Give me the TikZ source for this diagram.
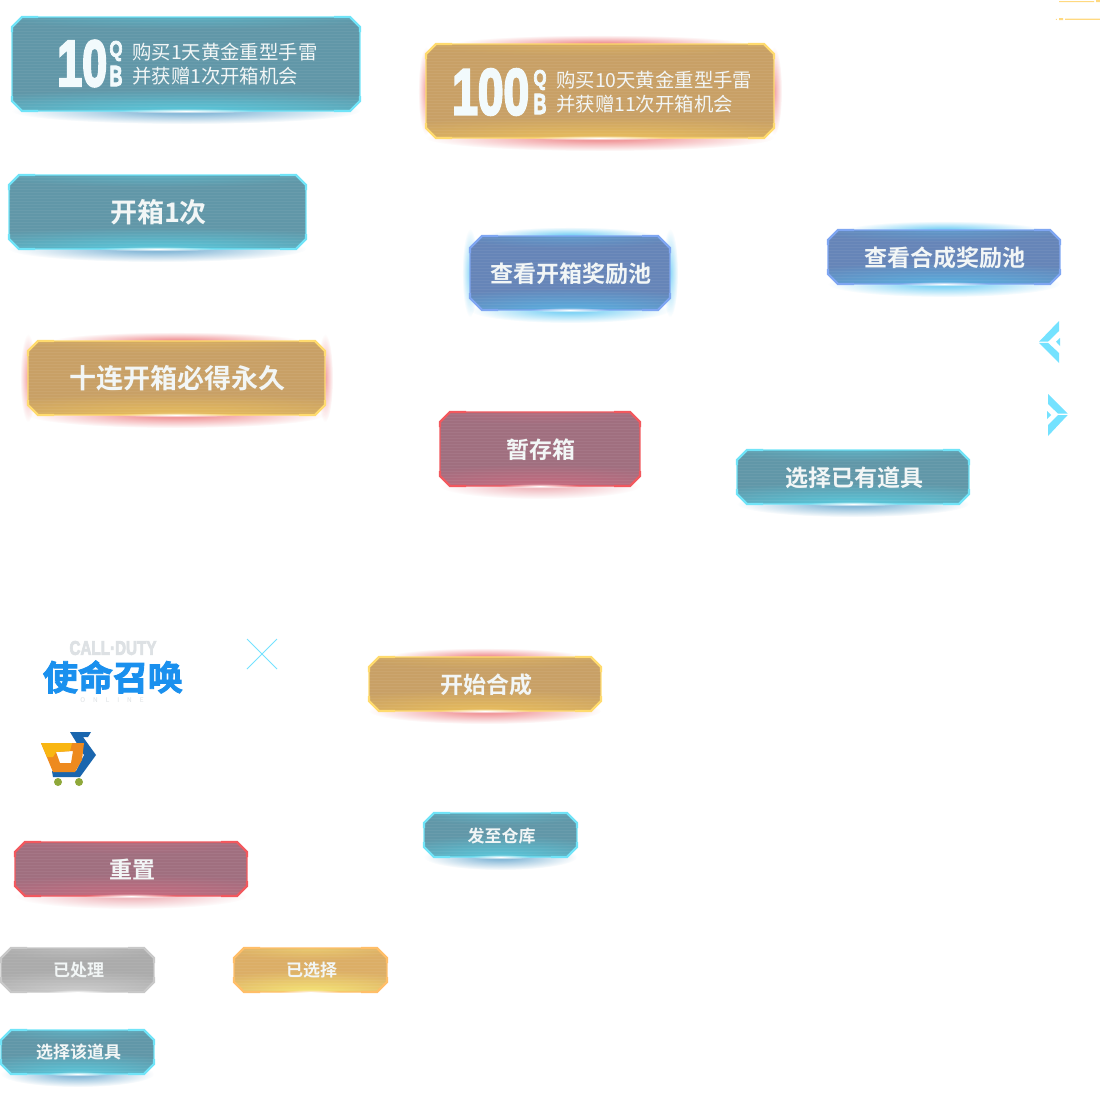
\documentclass[tikz,border=0pt]{standalone}
\usepackage{fontspec}
\usepackage{graphicx}
\usetikzlibrary{fadings}
\setmainfont{Noto Sans CJK SC}[BoldFont={Noto Sans CJK SC Bold}]
\newfontfamily\digitfont{Liberation Sans Bold}[FakeBold=4]
\newfontfamily\codfont{Noto Sans CJK SC Bold}[FakeBold=2.5]
\tikzfading[name=softglow, inner color=transparent!0, outer color=transparent!100]
\definecolor{tealfill}{HTML}{6197A8}\definecolor{tealedge}{HTML}{70E4F8}\definecolor{tealhi}{HTML}{58D2E6}\definecolor{tealshadow}{HTML}{3A8CC0}
\definecolor{goldfill}{HTML}{C8A066}\definecolor{goldedge}{HTML}{FFDB6E}\definecolor{goldhi}{HTML}{EFC35A}\definecolor{redglow}{HTML}{E8555A}
\definecolor{bluefill}{HTML}{6685B8}\definecolor{blueedge}{HTML}{7FA6F2}\definecolor{bluehi}{HTML}{58B8E8}\definecolor{cyanglow}{HTML}{30B8F0}
\definecolor{rosefill}{HTML}{A06F7F}\definecolor{roseedge}{HTML}{F2585E}\definecolor{rosehi}{HTML}{D06A80}\definecolor{roseglow}{HTML}{E89098}
\definecolor{greyfill}{HTML}{ABABAB}\definecolor{greyedge}{HTML}{C8C8C8}\definecolor{greyhi}{HTML}{D4D4D4}
\definecolor{yelfill}{HTML}{DCAE66}\definecolor{yeledge}{HTML}{FFBE68}\definecolor{yelhi}{HTML}{FBEF78}
\definecolor{labeltext}{HTML}{F2F6F6}\definecolor{bigdigit}{HTML}{F2FAFC}\definecolor{arrowcyan}{HTML}{74E2FF}\definecolor{linegold}{HTML}{FFD980}
\definecolor{codblue}{HTML}{1A90EE}\definecolor{codgrey}{HTML}{DDE1E4}
\definecolor{cartblue}{HTML}{1A66AE}\definecolor{cartorange}{HTML}{EE8A1E}\definecolor{cartyellow}{HTML}{F9B612}\definecolor{cartwheel}{HTML}{8FA83A}
\tikzset{
  btnlabel/.style={text=labeltext,inner sep=0pt,font=\bfseries},
  plainlabel/.style={text=labeltext,inner sep=0pt,anchor=west,font=\fontsize{19.4}{20}\selectfont},
  digitlabel/.style={inner sep=0pt,text=bigdigit},
  arrowpart/.style={fill=arrowcyan,draw=none},
}
% theme: fill, edge, inner highlight, glow below, glow above, glow sides, strength above
\newcommand\themeset[7]{\def\bfil{#1}\def\bedg{#2}\def\bhi{#3}\def\gbot{#4}\def\gtop{#5}\def\gsid{#6}\def\gamt{#7}}
\newcommand\teal{\themeset{tealfill}{tealedge}{tealhi}{tealshadow}{white}{white}{0}}
\newcommand\gold{\themeset{goldfill}{goldedge}{goldhi}{redglow}{redglow}{redglow}{.75}}
\newcommand\goldb{\themeset{goldfill}{goldedge}{goldhi}{redglow}{redglow}{white}{.75}}
\newcommand\bluet{\themeset{bluefill}{blueedge}{bluehi}{cyanglow}{cyanglow}{cyanglow}{.75}}
\newcommand\bluen{\themeset{bluefill}{blueedge}{bluehi}{cyanglow}{cyanglow}{white}{.75}}
\newcommand\rosy{\themeset{rosefill}{roseedge}{rosehi}{roseglow}{white}{white}{0}}
\newcommand\greyt{\themeset{greyfill}{greyedge}{greyhi}{white}{white}{white}{0}}
\newcommand\yelt{\themeset{yelfill}{yeledge}{yelhi}{white}{white}{white}{0}}
% \btn{name}{x0}{y0}{x1}{y1}{theme}{cut}{font size}{text}
\newcommand\btn[9]{%
\begin{scope}
#6%
\pgfmathsetmacro\cx{(#2+#4)/2}\pgfmathsetmacro\cy{(#3+#5)/2}\pgfmathsetmacro\bw{#4-#2}\pgfmathsetmacro\ys{#3+2}\pgfmathsetmacro\yb{#3+5}%
\fill[color=\gbot,path fading=softglow,opacity=.75] (\cx,#5) ellipse[x radius=.5*\bw,y radius=13];
\fill[color=\gtop,path fading=softglow,opacity=\gamt] (\cx,#3) ellipse[x radius=.42*\bw,y radius=9];
\fill[color=\gsid,path fading=softglow,opacity=.55] (#2,\cy) ellipse[x radius=8,y radius=44];
\fill[color=\gsid,path fading=softglow,opacity=.55] (#4,\cy) ellipse[x radius=8,y radius=44];
\begin{scope}
\clip (#2+#7,#3) -- (#4-#7,#3) -- (#4,#3+#7) -- (#4,#5-#7) -- (#4-#7,#5) -- (#2+#7,#5) -- (#2,#5-#7) -- (#2,#3+#7) -- cycle;
\fill[\bfil] (#2,#3) rectangle (#4,#5);
\fill[color=\bhi,path fading=softglow,opacity=.85] (\cx,#5) ellipse[x radius=.85*\bw,y radius=22];
\fill[color=\bhi,path fading=softglow,opacity=.4] (\cx,#3) ellipse[x radius=.6*\bw,y radius=12];
\foreach \yy in {\ys,\yb,...,#5}{\draw[white,opacity=.055,line width=.9] (#2,\yy) -- (#4,\yy);}
\end{scope}
\draw[\bedg,line width=1.1] (#2+#7,#3) -- (#4-#7,#3) -- (#4,#3+#7) -- (#4,#5-#7) -- (#4-#7,#5) -- (#2+#7,#5) -- (#2,#5-#7) -- (#2,#3+#7) -- cycle;
\draw[\bedg,line width=2.2,line join=miter] (#2+#7+16,#3) -- (#2+#7,#3) -- (#2,#3+#7) -- (#2,#3+#7+5);
\draw[\bedg,line width=2.2,line join=miter] (#4-#7-16,#3) -- (#4-#7,#3) -- (#4,#3+#7) -- (#4,#3+#7+5);
\draw[\bedg,line width=2.2,line join=miter] (#2+#7+16,#5) -- (#2+#7,#5) -- (#2,#5-#7) -- (#2,#5-#7-5);
\draw[\bedg,line width=2.2,line join=miter] (#4-#7-16,#5) -- (#4-#7,#5) -- (#4,#5-#7) -- (#4,#5-#7-5);
\fill[color=white,path fading=softglow] (\cx,#5) ellipse[x radius=.2*\bw,y radius=2.4];
\node[btnlabel] (#1) at (\cx+1,\cy+.5) {\fontsize{#8}{#8}\selectfont #9};
\end{scope}}
\begin{document}
\begin{tikzpicture}[x=1pt,y=-1pt]
\useasboundingbox (0,0) rectangle (1100,1100);
\fill[white] (0,0) rectangle (1100,1100);
% promo buttons
\btn{promoA}{12}{17}{360}{111}{\teal}{10}{10}{}
\btn{promoB}{426}{44}{774}{138}{\gold}{10}{10}{}
\node[digitlabel,anchor=west] (tenA) at (57,63.5) {\resizebox*{50pt}{46pt}{\digitfont 10}};
\node[digitlabel] (qA) at (116,51) {\resizebox*{13pt}{20pt}{\digitfont Q}};
\node[digitlabel] (bA) at (116,76) {\resizebox*{13pt}{20pt}{\digitfont B}};
\node[plainlabel] (lineA1) at (132,52) {购买1天黄金重型手雷};
\node[plainlabel] (lineA2) at (132,76) {并获赠1次开箱机会};
\node[digitlabel,anchor=west] (tenB) at (452,92) {\resizebox*{77pt}{46pt}{\digitfont 100}};
\node[digitlabel] (qB) at (540,80) {\resizebox*{13pt}{20pt}{\digitfont Q}};
\node[digitlabel] (bB) at (540,104) {\resizebox*{13pt}{20pt}{\digitfont B}};
\node[plainlabel] (lineB1) at (556,80) {购买10天黄金重型手雷};
\node[plainlabel] (lineB2) at (556,104) {并获赠11次开箱机会};
% labelled buttons
\btn{openOne}{9}{175}{306}{249}{\teal}{10}{27}{开箱1次}
\btn{viewOpen}{470}{236}{670}{310}{\bluet}{12}{23}{查看开箱奖励池}
\btn{viewMerge}{828}{230}{1060}{284}{\bluen}{10}{23}{查看合成奖励池}
\btn{openTen}{28}{341}{325}{415}{\gold}{10}{27}{十连开箱必得永久}
\btn{storage}{440}{412}{640}{486}{\rosy}{10}{23}{暂存箱}
\btn{pickOwned}{737}{450}{969}{504}{\teal}{10}{23}{选择已有道具}
\btn{startMerge}{369}{657}{601}{711}{\goldb}{10}{23}{开始合成}
\btn{sendStore}{424}{813}{577}{857}{\teal}{10}{17}{发至仓库}
\btn{resetBtn}{15}{842}{247}{896}{\rosy}{10}{23}{重置}
\btn{doneBtn}{1}{948}{154}{992}{\greyt}{10}{17}{已处理}
\btn{chosenBtn}{234}{948}{387}{992}{\yelt}{10}{17}{已选择}
\btn{pickItem}{1}{1030}{154}{1074}{\teal}{10}{17}{选择该道具}
% top-right rules
\fill[linegold] (1059,1) rectangle (1094,2.2) (1096,0) rectangle (1100,2) (1055.8,18.8) rectangle (1056.8,19.8) (1059,18) rectangle (1063,20) (1065,18.6) rectangle (1100,19.8);
% side arrows
\fill[arrowpart] (1059,321) -- (1039,341.7) -- (1048,341.7) -- (1059,331) -- cycle;
\fill[arrowpart] (1039,342.8) -- (1048,342.8) -- (1059,353) -- (1059,363) -- cycle;
\fill[arrowpart] (1056,341.7) -- (1060,338) -- (1060,346) -- cycle;
\fill[arrowpart] (1048,394) -- (1067.7,413.6) -- (1058,413.6) -- (1048,404) -- cycle;
\fill[arrowpart] (1067.7,415) -- (1058,415) -- (1048,425) -- (1048,436) -- cycle;
\fill[arrowpart] (1051,415) -- (1047,411) -- (1047,419) -- cycle;
% close cross
\coordinate (crossA) at (247,639);\coordinate (crossB) at (277,669);\coordinate (crossC) at (277,639);\coordinate (crossD) at (247,669);
\draw[arrowcyan,line width=.8] (crossA) -- (crossB) (crossC) -- (crossD);
% game logo
\node[inner sep=0pt,text=codgrey] (codTop) at (113,648) {\resizebox*{87pt}{14pt}{\digitfont CALL·DUTY}};
\node[inner sep=0pt,text=codblue] (codName) at (113,677) {\resizebox*{140pt}{33pt}{\codfont 使命召唤}};
\node[inner sep=0pt,text=codgrey] (codSub) at (112,700) {\fontsize{6.5}{6.5}\selectfont O\hspace{8pt}N\hspace{8pt}L\hspace{8pt}I\hspace{8pt}N\hspace{8pt}E};
% cart logo
\fill[cartblue] (70,732) -- (91,732) -- (88,737) -- (83,737) -- (96,755) -- (80,777) -- (53,777) -- (52,771) -- (76,771) -- (84,755) -- cycle;
\fill[cartorange,even odd rule] (41,743) -- (84,743) -- (82,760) -- (75,772) -- (53,772) -- cycle (56,752) -- (73,751) -- (71,763) -- (60,763) -- cycle;
\fill[cartyellow] (41,743) -- (72,743) -- (70,751) -- (56,752) -- (53,757) -- (47,757) -- cycle;
\fill[cartwheel] (58,782) circle[radius=4] (79,782) circle[radius=4];
\end{tikzpicture}
\end{document}
